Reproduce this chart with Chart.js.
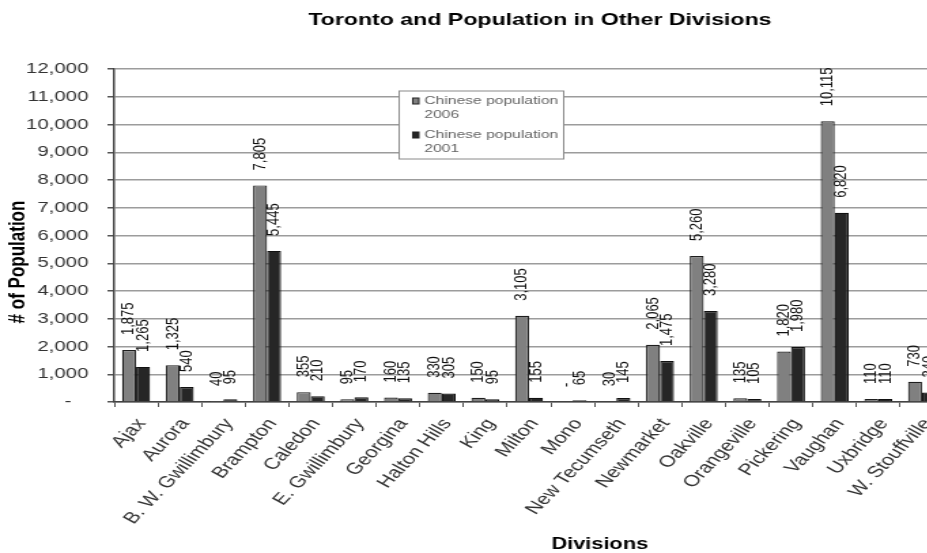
<!DOCTYPE html>
<html>
<head>
<meta charset="utf-8">
<script src="https://cdn.jsdelivr.net/npm/chart.js@4.4.1/dist/chart.umd.min.js"></script>
<style>
  html, body { margin: 0; padding: 0; background: #fff; overflow: hidden; width: 927px; height: 553px; }
  /* the source picture is a horizontally stretched scan; draw narrow, stretch by CSS */
  #chart { display: block; transform: scaleX(1.36); transform-origin: 0 0; }
</style>
</head>
<body>
<canvas id="chart" width="714" height="553"></canvas>
<script>
const FONT = '"Liberation Sans", Arial, Helvetica, sans-serif';

const categories = ["Ajax", "Aurora", "B. W. Gwillimbury", "Brampton", "Caledon", "E. Gwillimbury",
  "Georgina", "Halton Hills", "King", "Milton", "Mono", "New Tecumseth", "Newmarket", "Oakville",
  "Orangeville", "Pickering", "Vaughan", "Uxbridge", "W. Stouffville"];
const pop2006 = [1875, 1325, 40, 7805, 355, 95, 160, 330, 150, 3105, 0, 30, 2065, 5260, 135, 1820, 10115, 110, 730];
const pop2001 = [1265, 540, 95, 5445, 210, 170, 135, 305, 95, 155, 65, 145, 1475, 3280, 105, 1980, 6820, 110, 340];
const seriesNames = ["Chinese population 2006", "Chinese population 2001"];
const yMax = 12000, yStep = 1000;

const TITLE = "Toronto and Population in Other Divisions";
const Y_TITLE = "# of Population";
const X_TITLE = "Divisions";

// accounting-style number: zero shows as a dash
function fmt(v) { return v === 0 ? "-" : v.toLocaleString("en-US"); }

// titles, legend box and rotated value labels, drawn on the canvas
const decor = {
  id: "decor",
  afterDatasetsDraw(chart) {
    const ctx = chart.ctx;
    ctx.save();
    ctx.font = "13px " + FONT;
    ctx.fillStyle = "#111";
    chart.data.datasets.forEach((ds, i) => {
      chart.getDatasetMeta(i).data.forEach((bar, j) => {
        ctx.save();
        ctx.translate(bar.x, bar.y - 15);
        ctx.rotate(-Math.PI / 2);
        ctx.textAlign = "left";
        ctx.textBaseline = "middle";
        ctx.fillText(fmt(ds.data[j]), 0, 0);
        ctx.restore();
      });
    });
    ctx.restore();
  },
  afterDraw(chart) {
    const ctx = chart.ctx;
    ctx.save();
    ctx.fillStyle = "#000";
    ctx.textAlign = "center";
    ctx.textBaseline = "middle";
    ctx.font = "bold 17px " + FONT;
    ctx.fillText(TITLE, 397, 20);
    ctx.font = "bold 16px " + FONT;
    ctx.fillText(X_TITLE, 441, 545);
    ctx.save();
    ctx.translate(13, 262);
    ctx.rotate(-Math.PI / 2);
    ctx.font = "bold 17px " + FONT;
    ctx.fillText(Y_TITLE, 0, 0);
    ctx.restore();

    // legend
    const bx = 293.5, by = 91, bw = 121, bh = 68;
    ctx.fillStyle = "#fff";
    ctx.fillRect(bx, by, bw, bh);
    ctx.strokeStyle = "#8a8a8a";
    ctx.lineWidth = 1;
    ctx.strokeRect(bx, by, bw, bh);
    ctx.font = "11.5px " + FONT;
    ctx.textAlign = "left";
    chart.data.datasets.forEach((ds, i) => {
      const y0 = by + 10 + i * 34;
      ctx.fillStyle = ds.backgroundColor;
      ctx.fillRect(bx + 10, y0 - 3, 4.5, 6);
      ctx.strokeStyle = "#222";
      ctx.strokeRect(bx + 10, y0 - 3, 4.5, 6);
      const cut = ds.label.lastIndexOf(" ");
      ctx.fillStyle = "#666";
      ctx.fillText(ds.label.slice(0, cut), bx + 18.5, y0);
      ctx.fillText(ds.label.slice(cut + 1), bx + 18.5, y0 + 14);
    });
    ctx.restore();
  }
};

new Chart(document.getElementById("chart").getContext("2d"), {
  type: "bar",
  data: {
    labels: categories,
    datasets: [
      { label: seriesNames[0], data: pop2006, backgroundColor: "#808080", borderColor: "#1e1e1e", borderWidth: 1.2 },
      { label: seriesNames[1], data: pop2001, backgroundColor: "#262626", borderColor: "#111", borderWidth: 1.2 },
    ],
  },
  options: {
    responsive: false,
    animation: false,
    layout: { padding: { top: 69, right: 20, left: 0, bottom: 0 } },
    datasets: { bar: { categoryPercentage: 0.64, barPercentage: 1.0 } },
    scales: {
      x: {
        grid: { display: true, drawOnChartArea: false, offset: true, tickLength: 5, tickColor: "#555", lineWidth: 1 },
        border: { color: "#444", width: 1.5 },
        ticks: {
          autoSkip: false, minRotation: 54, maxRotation: 54, padding: 8, labelOffset: 4,
          color: "#333", font: { family: FONT, size: 16 },
        },
        afterFit(scale) { scale.height = 151; },
      },
      y: {
        min: 0, max: yMax,
        grid: { color: "#9c9c9c", lineWidth: 1.5, tickLength: 5, tickColor: "#555" },
        border: { color: "#444", width: 1.5 },
        ticks: {
          stepSize: yStep, padding: 14, color: "#333", font: { family: FONT, size: 15 },
          callback: (v) => (v === 0 ? "-   " : v.toLocaleString("en-US")),
        },
        afterFit(scale) { scale.width = 84; },
      },
    },
    plugins: { legend: { display: false }, title: { display: false }, tooltip: { enabled: false } },
  },
  plugins: [decor],
});
</script>
</body>
</html>
